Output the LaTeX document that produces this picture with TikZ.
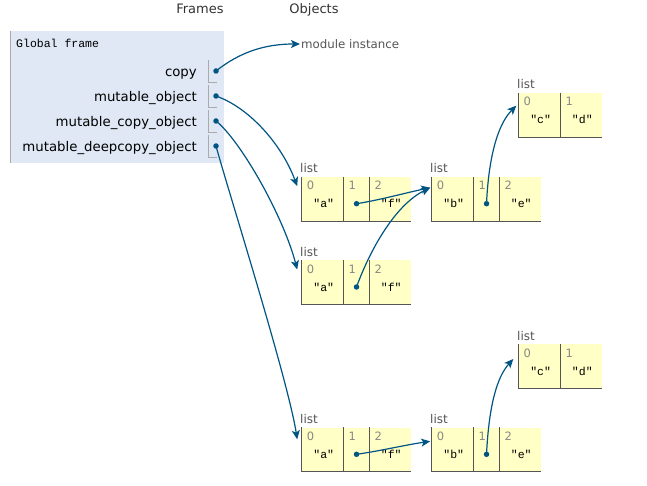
\documentclass[tikz,border=0pt]{standalone}
\usepackage{fontspec}
\setmainfont{DejaVu Sans}
\newfontfamily\monof{Liberation Mono}
\usetikzlibrary{arrows.meta}
\definecolor{framebg}{HTML}{DFE8F4}
\definecolor{framebd}{HTML}{AAAAAA}
\definecolor{listbg}{HTML}{FFFFC6}
\definecolor{cellbd}{HTML}{555555}
\definecolor{ptr}{HTML}{005583}
\definecolor{lbl}{HTML}{555555}
\definecolor{idxc}{HTML}{888888}
\definecolor{hdrc}{HTML}{333333}
\newcommand\mkcell[6]{%
  \node[cell, minimum width=#4] (#1) at (#2,#3) {};
  \node[idx] (#1i) at ([xshift=5pt,yshift=-4.5pt]#1.north west) {#5};
  \node[val] (#1v) at ([xshift=1pt,yshift=-27pt]#1.north) {#6};
}
\begin{document}
\begin{tikzpicture}[x=1pt,y=-1pt,
  cell/.style={fill=listbg, draw=none, inner sep=0, minimum height=44, anchor=north west},
  idx/.style={text=idxc, font=\fontsize{11.5}{13}\selectfont, inner sep=0, anchor=north west},
  val/.style={font=\monof\fontsize{11.5}{13}\selectfont, inner sep=0},
  hdr/.style={font=\fontsize{13}{15}\selectfont, text=hdrc, inner sep=0, anchor=base},
  varname/.style={font=\fontsize{13.3}{15}\selectfont, anchor=base east, inner sep=0},
  lst/.style={text=lbl, font=\fontsize{12}{14}\selectfont, anchor=base west, inner sep=0},
  ptrdot/.style={circle, fill=ptr, inner sep=0, minimum size=5.5},
  arr/.style={draw=ptr, line width=1.2, -{Stealth[length=9,width=8,inset=2.2]}},
  bd/.style={draw=cellbd, line width=0.9},
  vbd/.style={draw=framebd, line width=0.9}
]
\useasboundingbox (0,0) rectangle (647,486);
\fill[white] (0,0) rectangle (647,486);

% headers
\node[hdr] (hframes) at (200,14) {Frames};
\node[hdr] (hobjects) at (314,14) {Objects};

% global frame
\node[fill=framebg, inner sep=0, minimum width=214, minimum height=132, anchor=north west] (frame) at (10,31) {};
\draw[vbd] (frame.north west) -- (frame.south west);
\node[font=\monof\fontsize{11.5}{13}\selectfont, anchor=base west, inner sep=0] (gtitle) at (16,48) {Global frame};

\foreach \n/\t [count=\k from 0] in {vcopy/copy, vmut/mutable\_object, vmcopy/mutable\_copy\_object, vmdeep/mutable\_deepcopy\_object}{
  \node[varname] (\n) at (197,{77+25*\k}) {\t};
  \draw[vbd] (208,{60+25*\k}) -- (208,{82+25*\k}) -- (217,{82+25*\k});
  \node[ptrdot] (\n d) at (216,{71+25*\k}) {};
}

% module instance
\node[text=lbl, font=\fontsize{11.8}{14}\selectfont, anchor=base west, inner sep=0] (modinst) at (301,48.5) {module instance};

% ---- lists ----
% A1
\node[lst] (A1l) at (300,172.5) {list};
\mkcell{A1c0}{301.7}{176.7}{41.6}{0}{"a"}
\mkcell{A1c1}{343.3}{176.7}{26}{1}{}
\mkcell{A1c2}{369.3}{176.7}{41.4}{2}{"f"}
% B1
\node[lst] (B1l) at (430,172.5) {list};
\mkcell{B1c0}{431.7}{176.7}{41.6}{0}{"b"}
\mkcell{B1c1}{473.3}{176.7}{26}{1}{}
\mkcell{B1c2}{499.3}{176.7}{41.4}{2}{"e"}
% C1
\node[lst] (C1l) at (517,88.5) {list};
\mkcell{C1c0}{518.3}{92.7}{42.2}{0}{"c"}
\mkcell{C1c1}{560.5}{92.7}{41.2}{1}{"d"}
% A2
\node[lst] (A2l) at (300,256) {list};
\mkcell{A2c0}{301.7}{260}{41.6}{0}{"a"}
\mkcell{A2c1}{343.3}{260}{26}{1}{}
\mkcell{A2c2}{369.3}{260}{41.4}{2}{"f"}
% C2
\node[lst] (C2l) at (517,340) {list};
\mkcell{C2c0}{518.3}{344}{42.2}{0}{"c"}
\mkcell{C2c1}{560.5}{344}{41.2}{1}{"d"}
% A3
\node[lst] (A3l) at (300,423) {list};
\mkcell{A3c0}{301.7}{427.3}{41.6}{0}{"a"}
\mkcell{A3c1}{343.3}{427.3}{26}{1}{}
\mkcell{A3c2}{369.3}{427.3}{41.4}{2}{"f"}
% B3
\node[lst] (B3l) at (430,423) {list};
\mkcell{B3c0}{431.7}{427.3}{41.6}{0}{"b"}
\mkcell{B3c1}{473.3}{427.3}{26}{1}{}
\mkcell{B3c2}{499.3}{427.3}{41.4}{2}{"e"}

% cell borders (left and bottom)
\foreach \L/\N in {A1/2, B1/2, A2/2, A3/2, B3/2, C1/1, C2/1}{
  \draw[bd] (\L c0.north west) |- (\L c\N.south east);
  \foreach \j in {1,...,\N}{
    \draw[bd] (\L c\j.north west) -- (\L c\j.south west);
  }
}

% pointer dots in lists
\node[ptrdot] (A1d) at ([yshift=-27pt]A1c1.north) {};
\node[ptrdot] (B1d) at ([yshift=-27pt]B1c1.north) {};
\node[ptrdot] (A2d) at ([yshift=-27pt]A2c1.north) {};
\node[ptrdot] (A3d) at ([yshift=-27pt]A3c1.north) {};
\node[ptrdot] (B3d) at ([yshift=-27pt]B3c1.north) {};

% arrow targets
\coordinate (tmod) at ([xshift=-1pt,yshift=4.5pt]modinst.base west);
\coordinate (tA1) at ([xshift=-4.5pt,yshift=-9.5pt]A1c0.north west);
\coordinate (tA2) at ([xshift=-4.5pt,yshift=-9.5pt]A2c0.north west);
\coordinate (tA3) at ([xshift=-4.5pt,yshift=-12pt]A3c0.north west);
\coordinate (tB1) at ([xshift=-1.5pt,yshift=-11pt]B1c0.north west);
\coordinate (tB3) at ([xshift=-1.5pt,yshift=-14pt]B3c0.north west);
\coordinate (tC1) at ([xshift=-2pt,yshift=-13pt]C1c0.north west);
\coordinate (tC2) at ([xshift=-5pt,yshift=-15pt]C2c0.north west);

% arrows
\draw[arr] (vcopyd.center) .. controls (240,52) and (265,44) .. (tmod);
\draw[arr] (vmutd.center) .. controls (250,108) and (282,145) .. (tA1);
\draw[arr] (vmcopyd.center) .. controls (240,140) and (283,215) .. (tA2);
\draw[arr] (vmdeepd.center) .. controls (228,190) and (288,380) .. (tA3);
\draw[arr] (A1d.center) .. controls (380,200) and (405,193) .. (tB1);
\draw[arr] (A2d.center) .. controls (370,250) and (395,205) .. (tB1);
\draw[arr] (B1d.center) .. controls (489,150) and (500,122) .. (tC1);
\draw[arr] (A3d.center) .. controls (380,451) and (405,445) .. (tB3);
\draw[arr] (B3d.center) .. controls (489,405) and (497,377) .. (tC2);
\end{tikzpicture}
\end{document}
